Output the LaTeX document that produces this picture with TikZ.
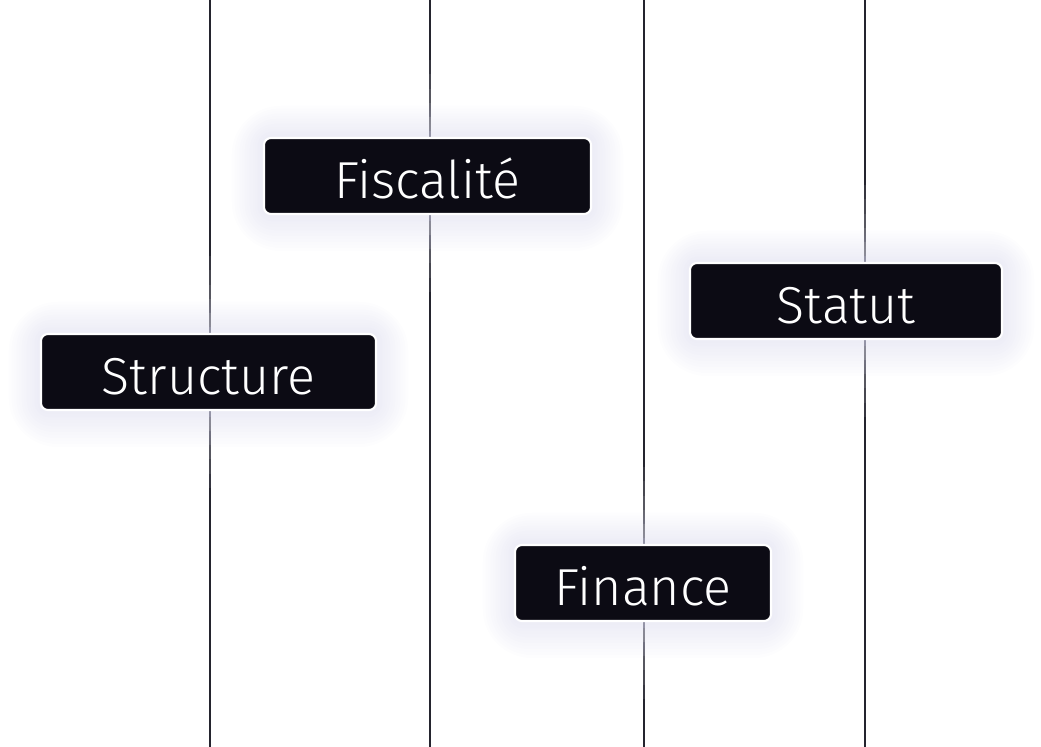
\documentclass[tikz,border=0pt]{standalone}
\usepackage{fontspec}
\setmainfont{Fira Sans}[UprightFont={* Light}]
\usetikzlibrary{positioning}

\definecolor{tagfill}{RGB}{12,11,20}
\definecolor{railc}{RGB}{36,36,46}
\definecolor{railfade}{RGB}{218,218,226}
\definecolor{glowc}{RGB}{198,198,228}

\pgfdeclarelayer{bg}
\pgfsetlayers{bg,main}

\begin{document}
\begin{tikzpicture}[
        x=0.025cm, y=-0.025cm,
        tag/.style={rectangle, rounded corners=5pt, fill=tagfill, draw=white, line width=1.5pt,
            minimum height=1.9cm, text height=1.1cm, text depth=0cm, text=white,
            font=\fontsize{37}{40}\selectfont},
        rail/.style={draw=railc, line width=1.6pt},
        glow/.style={fill=glowc, opacity=0.03}
    ]
    \useasboundingbox (0,0) rectangle (1041,747);

    % Tags
    \node[tag, minimum width=8.175cm] (fisc) at (427.5,176) {Fiscalité};
    \node[tag, minimum width=7.8cm] (statut) at (846,301) {Statut};
    \node[tag, minimum width=8.375cm] (struct) at (208.5,372) {Structure};
    \node[tag, minimum width=6.4cm] (fin) at (643,583) {Finance};

    % Ends of the rails
    \coordinate (top1) at (210,0);   \coordinate (bot1) at (210,747);
    \coordinate (top2) at (430,0);   \coordinate (bot2) at (430,747);
    \coordinate (top3) at (644,0);   \coordinate (bot3) at (644,747);
    \coordinate (top4) at (865,0);   \coordinate (bot4) at (865,747);

    \begin{pgfonlayer}{bg}
        % Rails, fading out next to the tags
        \foreach \n/\i in {struct/1, fisc/2, fin/3, statut/4} {
            \draw[rail] (top\i) -- (top\i |- \n.north);
            \draw[rail] (top\i |- \n.south) -- (bot\i);
            \coordinate (in\i) at (top\i |- \n.north);
            \coordinate (out\i) at (top\i |- \n.south);
            \foreach \j in {0,...,11} {
                \pgfmathtruncatemacro{\p}{\j*100/11}
                \draw[rail, draw=railc!\p!railfade] ([yshift=-\j*10]in\i) -- ([yshift=-\j*10-10]in\i);
                \draw[rail, draw=railc!\p!railfade] ([yshift=\j*10]out\i) -- ([yshift=\j*10+10]out\i);
            }
        }

        % Glow round the tags
        \foreach \n in {fisc,statut,struct,fin} {
            \foreach \k in {1,...,12} {
                \pgfmathsetmacro{\r}{5+\k*2.5}
                \fill[glow, rounded corners=\r pt]
                    ([shift={(-\k*2.6,-\k*2.6)}]\n.north west) rectangle ([shift={(\k*2.6,\k*3)}]\n.south east);
            }
        }
    \end{pgfonlayer}

\end{tikzpicture}
\end{document}
